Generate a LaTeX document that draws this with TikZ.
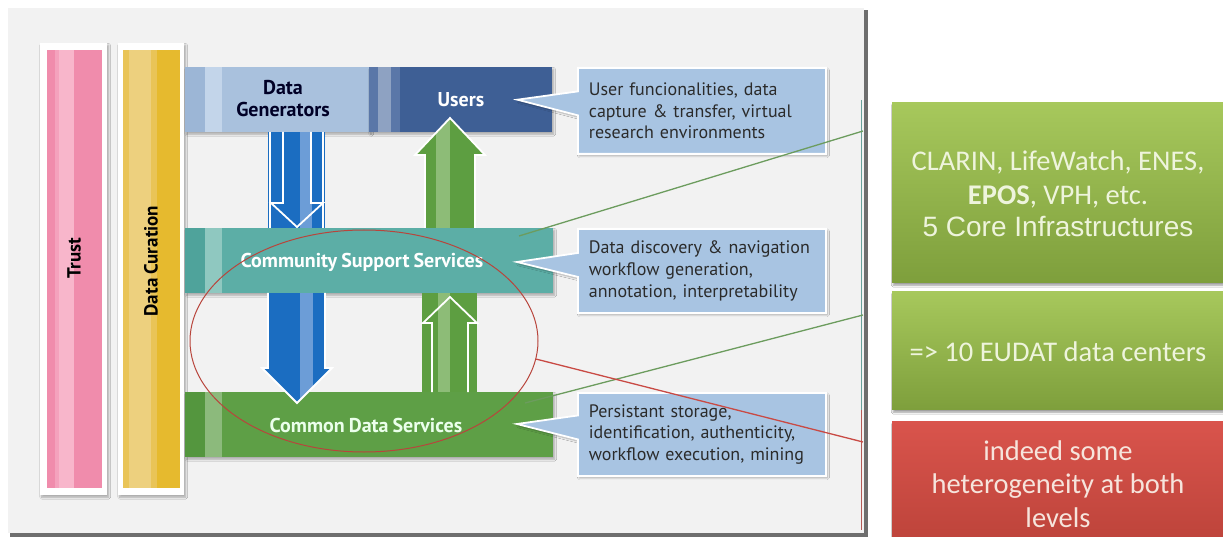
\documentclass[tikz,border=0pt]{standalone}
\usepackage{fontspec}
\setmainfont{Carlito}
\newfontfamily\diag[WordSpace=0.8]{PT Sans}
\newfontfamily\arialfont{Liberation Sans}
\usetikzlibrary{shadows.blur,shapes.callouts,shapes.geometric}

\definecolor{panelbg}{HTML}{F2F2F2}
\definecolor{panelrim}{HTML}{6E6E6E}
\definecolor{trustpink}{HTML}{F08CAC}
\definecolor{trustlite}{HTML}{F8B6CB}
\definecolor{trustmid}{HTML}{F4A2BD}
\definecolor{curgold}{HTML}{E6BA2E}
\definecolor{curlite}{HTML}{EDD07E}
\definecolor{curmid}{HTML}{E9C457}
\definecolor{genblue}{HTML}{A9C1DD}
\definecolor{genlite}{HTML}{C3D5EA}
\definecolor{genmid}{HTML}{9CB6D6}
\definecolor{userblue}{HTML}{3E5F95}
\definecolor{userlite}{HTML}{8EA2C2}
\definecolor{usermid}{HTML}{5A77A8}
\definecolor{cssteal}{HTML}{5CAEA6}
\definecolor{csslite}{HTML}{8FC8C0}
\definecolor{cssmid}{HTML}{4FA39B}
\definecolor{cdsgreen}{HTML}{5E9F46}
\definecolor{cdslite}{HTML}{8CBA7C}
\definecolor{cdsmid}{HTML}{54963E}
\definecolor{calloutfill}{HTML}{A8C4E2}
\definecolor{callouttext}{HTML}{2B2B2B}
\definecolor{arrowblue}{HTML}{1B6DC1}
\definecolor{arrowbluelite}{HTML}{6C9DD7}
\definecolor{arrowgreen}{HTML}{5D9E41}
\definecolor{arrowgreenlite}{HTML}{8DBC77}
\definecolor{ringred}{HTML}{B8453C}
\definecolor{linkgreen}{HTML}{6C9C5E}
\definecolor{linkred}{HTML}{C94A44}
\definecolor{infotop}{HTML}{A7C85C}
\definecolor{infobot}{HTML}{7E9F3C}
\definecolor{warntop}{HTML}{D9544C}
\definecolor{warnbot}{HTML}{BE443B}
\definecolor{infotext}{HTML}{EEF4DC}
\definecolor{warntext}{HTML}{F6E4DC}

% two lighter stripes along the left end of a bar
\newcommand{\barstripes}[2]{%
  \fill[#1] (path picture bounding box.north west) rectangle ([xshift=20pt]path picture bounding box.south west);
  \fill[#2] ([xshift=20pt]path picture bounding box.north west) rectangle ([xshift=37pt]path picture bounding box.south west);}
\newcommand{\nohyphens}{\hyphenpenalty=10000\relax}

\tikzset{
  softshadow/.style={blur shadow={shadow blur steps=6, shadow xshift=1.5pt, shadow yshift=-2pt, shadow opacity=30}},
  bar/.style={inner sep=0pt, minimum height=65pt, anchor=north west, softshadow},
  barlabel/.style={font=\diag\bfseries\fontsize{20}{22}\selectfont, align=center, inner sep=0pt},
  frame/.style={fill=white, inner sep=0pt, anchor=north west, minimum width=67pt, minimum height=452pt, softshadow},
  column/.style={inner sep=0pt, anchor=north west, minimum width=55pt, minimum height=438pt},
  collabel/.style={font=\diag\bfseries\fontsize{19}{21}\selectfont, rotate=90, inner sep=0pt},
  callbox/.style={rectangle callout, fill=calloutfill, draw=white, line width=1.8pt,
    anchor=north west, minimum width=248pt, inner xsep=11pt, inner ysep=0pt,
    text width=226pt, align=left, callout pointer width=24pt, softshadow,
    text=callouttext, font=\diag\fontsize{18}{21.7}\selectfont,
    execute at begin node=\nohyphens},
  flowarrow/.style={draw=white, line width=1.8pt, line join=miter},
  infobox/.style={inner sep=0pt, anchor=north west, minimum width=331pt,
    top color=infotop, bottom color=infobot,
    blur shadow={shadow blur steps=5, shadow xshift=1pt, shadow yshift=-3pt, shadow opacity=40}},
  infotxt/.style={text=infotext, inner sep=0pt, align=center, font=\fontsize{28.5}{34}\selectfont},
  link/.style={line width=1.3pt},
}

\begin{document}
\begin{tikzpicture}[x=1pt,y=-1pt]
\useasboundingbox (0,0) rectangle (1223,537);
\fill[white] (0,0) rectangle (1223,537);

% framed panel holding the layered architecture
\fill[panelrim] (10,10) rectangle (868,537);
\fill[panelbg] (8,8) rectangle (864,533);
\draw[cssteal!70!gray, line width=0.8pt] (861.5,100) -- (861.5,410);
\draw[linkred!70!gray, line width=0.8pt] (861.5,410) -- (861.5,530);

% vertical columns
\node[frame] (trustframe) at (40,43) {};
\node[column, fill=trustpink, path picture={
  \fill[trustmid] ([xshift=8pt]path picture bounding box.north west) rectangle ([xshift=12pt]path picture bounding box.south west);
  \fill[trustlite] ([xshift=12pt]path picture bounding box.north west) rectangle ([xshift=27pt]path picture bounding box.south west);}]
  (trust) at (47,50) {};
\node[collabel] (trustlbl) at (74,258) {Trust};

\node[frame, minimum width=66pt] (curframe) at (118,43) {};
\node[column, minimum width=57pt, fill=curgold, path picture={
  \fill[curmid] (path picture bounding box.north west) rectangle ([xshift=6pt]path picture bounding box.south west);
  \fill[curlite] ([xshift=6pt]path picture bounding box.north west) rectangle ([xshift=28pt]path picture bounding box.south west);
  \fill[curmid] ([xshift=28pt]path picture bounding box.north west) rectangle ([xshift=34pt]path picture bounding box.south west);}]
  (curation) at (123,50) {};
\node[collabel] (curlbl) at (151,261) {Data Curation};

% horizontal layers
\node[bar, minimum width=185pt, fill=genblue, path picture={\barstripes{genmid}{genlite}}] (gen) at (185,67) {};
\node[barlabel, text=black!85!blue] (genlbl) at (283,99) {Data\\Generators};
\node[bar, minimum width=183pt, fill=userblue, path picture={
  \fill[usermid] (path picture bounding box.north west) rectangle ([xshift=9pt]path picture bounding box.south west);
  \fill[userlite] ([xshift=9pt]path picture bounding box.north west) rectangle ([xshift=22pt]path picture bounding box.south west);
  \fill[usermid] ([xshift=22pt]path picture bounding box.north west) rectangle ([xshift=31pt]path picture bounding box.south west);}]
  (users) at (369,67) {};
\node[barlabel, text=white] (userslbl) at (461,100) {Users};

\node[bar, minimum width=368pt, fill=cssteal, path picture={\barstripes{cssmid}{csslite}}] (css) at (185,228) {};
\node[barlabel, text=white] (csslbl) at (362,262) {Community Support Services};

\node[bar, minimum width=368pt, fill=cdsgreen, path picture={\barstripes{cdsmid}{cdslite}}] (cds) at (185,392) {};
\node[barlabel, text=white!92!green] (cdslbl) at (366,425) {Common Data Services};

% data flowing down: generators -> community -> common
\fill[arrowblue] (268,132) rectangle (325,228);
\fill[arrowbluelite] (300,132) rectangle (312,228);
\draw[white, line width=1.6pt] (270,132) -- (270,228) (323,132) -- (323,228);
\draw[flowarrow] (283,132) -- (283,203) -- (271,203) -- (297,227) -- (323,203) -- (311,203) -- (311,132);

\begin{scope}
  \clip (268,293) -- (268,368) -- (262,368) -- (297,403) -- (332,368) -- (325,368) -- (325,293) -- cycle;
  \fill[arrowblue] (260,293) rectangle (334,405);
  \fill[arrowbluelite] (300,293) rectangle (313,405);
\end{scope}
\draw[flowarrow] (268,293) -- (268,368) -- (262,368) -- (297,403) -- (332,368) -- (325,368) -- (325,293);

% services flowing up: common -> community -> users
\fill[arrowgreen] (422,293) rectangle (477,392);
\fill[arrowgreenlite] (438,293) rectangle (450,392);
\draw[flowarrow] (432,392) -- (432,323) -- (423,323) -- (450,297) -- (477,323) -- (468,323) -- (468,392);

\begin{scope}
  \clip (425,228) -- (425,155) -- (415,155) -- (450,118) -- (485,155) -- (475,155) -- (475,228) -- cycle;
  \fill[arrowgreen] (413,116) rectangle (487,228);
  \fill[arrowgreenlite] (436,116) rectangle (450,228);
\end{scope}
\draw[flowarrow] (425,228) -- (425,155) -- (415,155) -- (450,118) -- (485,155) -- (475,155) -- (475,228);

% descriptions of each layer
\node[callbox, minimum height=86pt, callout absolute pointer={([xshift=-35pt]users.east)}] (usersnote) at (577,67)
  {User funcionalities, data\\capture \& transfer, virtual\\research environments};
\node[callbox, minimum height=84pt, callout absolute pointer={(517,262)}] (cssnote) at (577,228)
  {Data discovery \& navigation\\workflow generation,\\annotation, interpretability};
\node[callbox, minimum height=83pt, callout absolute pointer={(517,424)}] (cdsnote) at (577,392)
  {Persistant storage,\\identification, authenticity,\\workflow execution, mining};

% highlighted region
\node[ellipse, draw=ringred, line width=1pt, minimum width=348pt, minimum height=222pt, inner sep=0pt] (ring) at (364,341) {};

% annotations on the right
\node[infobox, minimum height=180pt] (core) at (892,102) {};
\node[infotxt] (coreline1) at (1058,162) {CLARIN, LifeWatch, ENES,};
\node[infotxt] (coreline2) at (1058,197) {\textbf{EPOS}, VPH, etc.};
\node[infotxt, font=\arialfont\fontsize{28}{32}\selectfont] (coreline3) at (1058,227) {5 Core Infrastructures};

\node[infobox, minimum height=118pt] (centers) at (892,291) {};
\node[infotxt] (centerstxt) at (1058,352) {=> 10 EUDAT data centers};

\node[infobox, minimum height=118pt, top color=warntop, bottom color=warnbot] (hetero) at (892,421) {};
\node[infotxt, text=warntext, font=\fontsize{28.5}{33.5}\selectfont] (heterotxt) at (1058,484)
  {indeed some\\heterogeneity at both\\levels};

\coordinate (coreend) at (863,131);
\coordinate (centersend) at (863,315);
\coordinate (heteroend) at (863,442);
\coordinate (cssfrom) at (519,236);
\coordinate (cdsfrom) at (525,403);
\draw[link, linkgreen] (cssfrom) -- (coreend);
\draw[link, linkgreen] (cdsfrom) -- (centersend);
\draw[link, linkred] (ring.-6) -- (heteroend);
\end{tikzpicture}
\end{document}
